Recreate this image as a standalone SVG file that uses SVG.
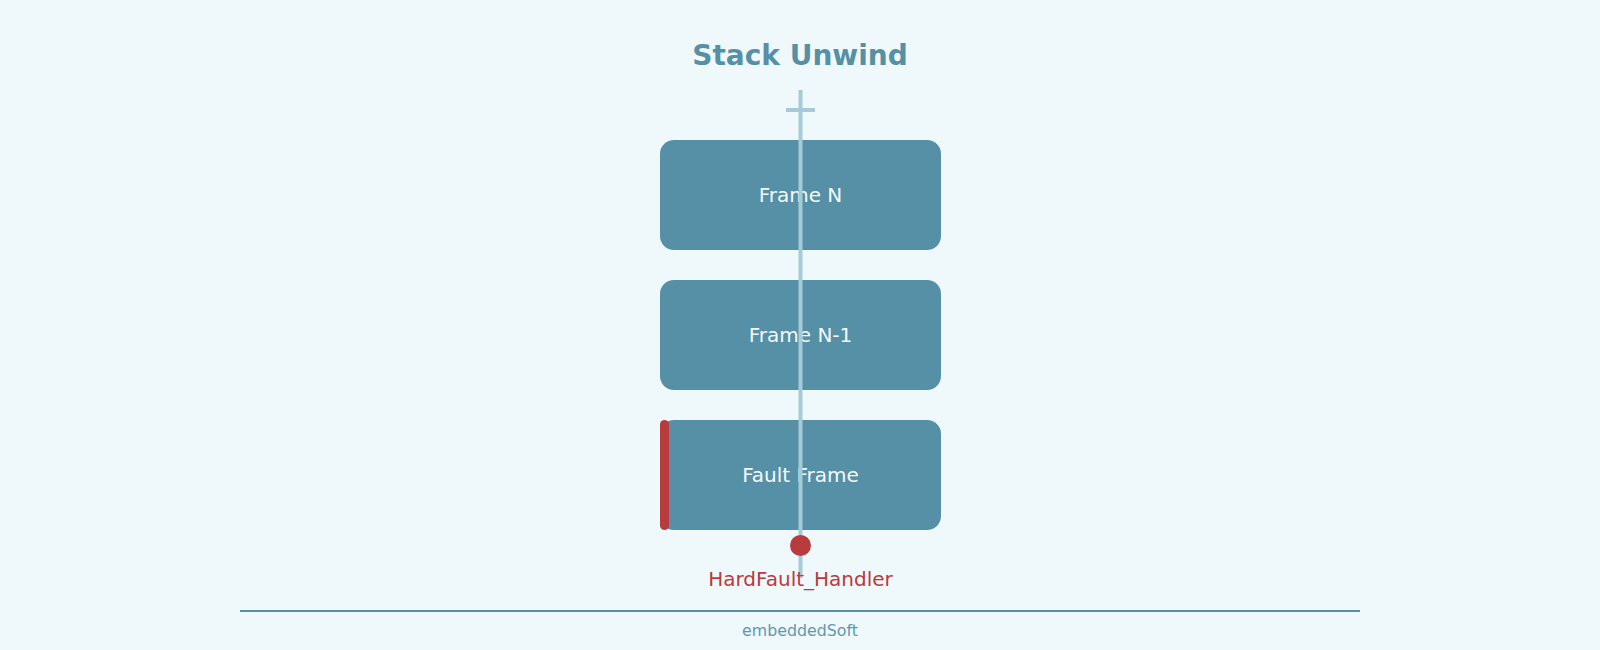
<svg xmlns="http://www.w3.org/2000/svg" width="1600" height="650" viewBox="0 0 1600 650">
<style>
.box{fill:#5590a6}
.alert{fill:#b83b3e}
.frame text{fill:#f3fafc;font-family:"DejaVu Sans",sans-serif;font-size:20px;text-anchor:middle}
.title{fill:#5590a6;font-family:"DejaVu Sans",sans-serif;font-size:28px;font-weight:bold;text-anchor:middle}
.spine{stroke:#a5cbd9;stroke-width:4;fill:none}
</style>
<rect width="1600" height="650" fill="#eff8fa"/>
<text class="title" x="800" y="65">Stack Unwind</text>
<g id="frame-n" class="frame">
<rect class="box" x="660" y="140" width="281" height="110" rx="14"/>
<text x="800.5" y="202">Frame N</text>
</g>
<g id="frame-n-1" class="frame">
<rect class="box" x="660" y="280" width="281" height="110" rx="14"/>
<text x="800.5" y="342">Frame N-1</text>
</g>
<g id="fault-frame" class="frame">
<rect class="box" x="660" y="420" width="281" height="110" rx="14"/>
<rect class="alert" x="660" y="420" width="9" height="110" rx="4.5"/>
<text x="800.5" y="482">Fault Frame</text>
</g>
<g id="connectors">
<line class="spine" x1="800.5" y1="90" x2="800.5" y2="578"/>
<line class="spine" x1="786" y1="110" x2="815" y2="110" stroke-width="5"/>
</g>
<g id="hardfault">
<circle class="alert" cx="800.5" cy="545.5" r="10.5"/>
<text x="800.5" y="586" fill="#b83b3e" font-family="DejaVu Sans,sans-serif" font-size="20" text-anchor="middle">HardFault_Handler</text>
</g>
<g id="footer">
<line x1="240" y1="611" x2="1360" y2="611" stroke="#5590a6" stroke-width="2"/>
<text x="800" y="636" fill="#5f98ae" font-family="DejaVu Sans,sans-serif" font-size="15.8" text-anchor="middle">embeddedSoft</text>
</g>
</svg>
